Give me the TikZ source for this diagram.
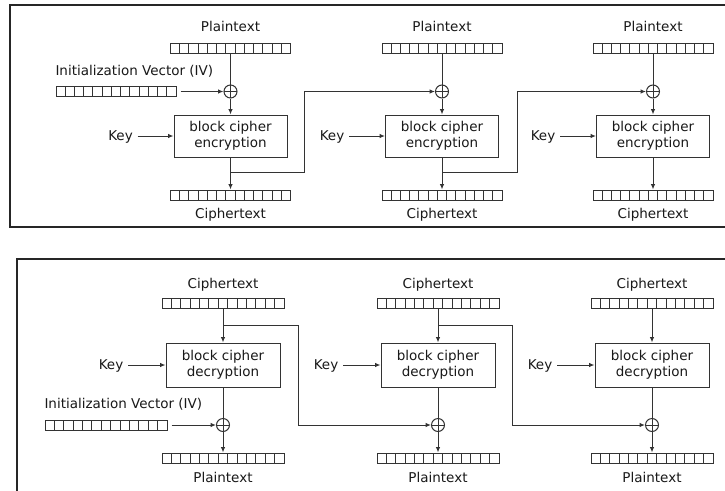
\documentclass[tikz,border=0pt]{standalone}
\usepackage{fontspec}
\setmainfont{DejaVu Sans}
\usetikzlibrary{arrows.meta,calc}
\begin{document}
\begin{tikzpicture}[x=1pt,y=-1pt,
  line width=1pt, color=black!80, text=black!90,
  font=\fontsize{13.5}{16}\selectfont,
  frame/.style={draw=black!85, line width=1.3pt},
  bits/.style={draw, rectangle, minimum width=120pt, minimum height=10pt, inner sep=0pt,
    path picture={\foreach \k in {1,...,12}{
      \draw ($(path picture bounding box.south west)!\k/13!(path picture bounding box.south east)$)
         -- ($(path picture bounding box.north west)!\k/13!(path picture bounding box.north east)$);}}},
  xor/.style={draw, circle, minimum size=13pt, inner sep=0pt,
    path picture={\draw (path picture bounding box.north) -- (path picture bounding box.south)
                        (path picture bounding box.west) -- (path picture bounding box.east);}},
  cipher/.style={draw, rectangle, minimum width=113pt, minimum height=42pt, align=center, inner sep=0pt},
  keylbl/.style={text height=9.8pt, text depth=0pt, inner sep=0pt, outer sep=5pt},
  lbl/.style={inner sep=0pt, anchor=base},
  arr/.style={-{Latex[length=5.5pt,width=4.5pt]}},
]
\useasboundingbox (0,0) rectangle (725,490);
\fill[white] (0,0) rectangle (725,490);

% ---------- frames ----------
\draw[frame] (730,5) -- (10,5) -- (10,227) -- (730,227);
\draw[frame] (730,259) -- (17,259) -- (17,495);

% ---------- CBC encryption ----------
\foreach \n/\cx in {1/230.5, 2/442, 3/653}{
  \node[lbl] (pl\n) at (\cx,31.5) {Plaintext};
  \node[bits] (p\n) at (\cx,48) {};
  \node[xor] (x\n) at (\cx,91.5) {};
  \node[cipher] (b\n) at (\cx,136) {block cipher\\encryption};
  \node[bits] (c\n) at (\cx,195) {};
  \node[lbl] (cl\n) at (\cx,218) {Ciphertext};
  \node[keylbl] (k\n) at (\cx-110,136) {Key};
  \coordinate (t\n) at (\cx,172);
}
\node[lbl, anchor=base west] (ivl1) at (55,75) {Initialization Vector (IV)};
\node[bits] (iv1) at (116,91.5) {};

\foreach \n in {1,2,3}{
  \draw (p\n) -- (x\n);
  \draw[arr] (x\n) -- (b\n);
  \draw[arr] (b\n) -- (c\n);
  \draw[arr] (k\n) -- (b\n);
}
\draw[arr, shorten <=4pt] (iv1) -- (x1);
\coordinate (u1) at (304,91.5);
\coordinate (u2) at (517,91.5);
\draw[arr] (t1) -| (u1) -- (x2);
\draw[arr] (t2) -| (u2) -- (x3);

% ---------- CBC decryption ----------
\foreach \n/\cx in {4/223, 5/438, 6/652}{
  \node[lbl] (cl\n) at (\cx,288) {Ciphertext};
  \node[bits, minimum width=122pt] (c\n) at (\cx,303.5) {};
  \node[cipher, minimum width=114pt, minimum height=44pt] (b\n) at (\cx,365) {block cipher\\decryption};
  \node[keylbl] (k\n) at (\cx-112,365) {Key};
  \node[xor] (x\n) at (\cx,425) {};
  \node[bits, minimum width=122pt] (p\n) at (\cx,458) {};
  \node[lbl] (pl\n) at (\cx,482) {Plaintext};
  \coordinate (t\n) at (\cx,325);
}
\node[lbl, anchor=base west] (ivl4) at (44,408) {Initialization Vector (IV)};
\node[bits, minimum width=122pt] (iv4) at (106,425) {};

\foreach \n in {4,5,6}{
  \draw[arr] (c\n) -- (b\n);
  \draw (b\n) -- (x\n);
  \draw[arr] (x\n) -- (p\n);
  \draw[arr] (k\n) -- (b\n);
}
\draw[arr, shorten <=4pt] (iv4) -- (x4);
\coordinate (u4) at (298,425);
\coordinate (u5) at (512,425);
\draw[arr] (t4) -| (u4) -- (x5);
\draw[arr] (t5) -| (u5) -- (x6);
\end{tikzpicture}
\end{document}
